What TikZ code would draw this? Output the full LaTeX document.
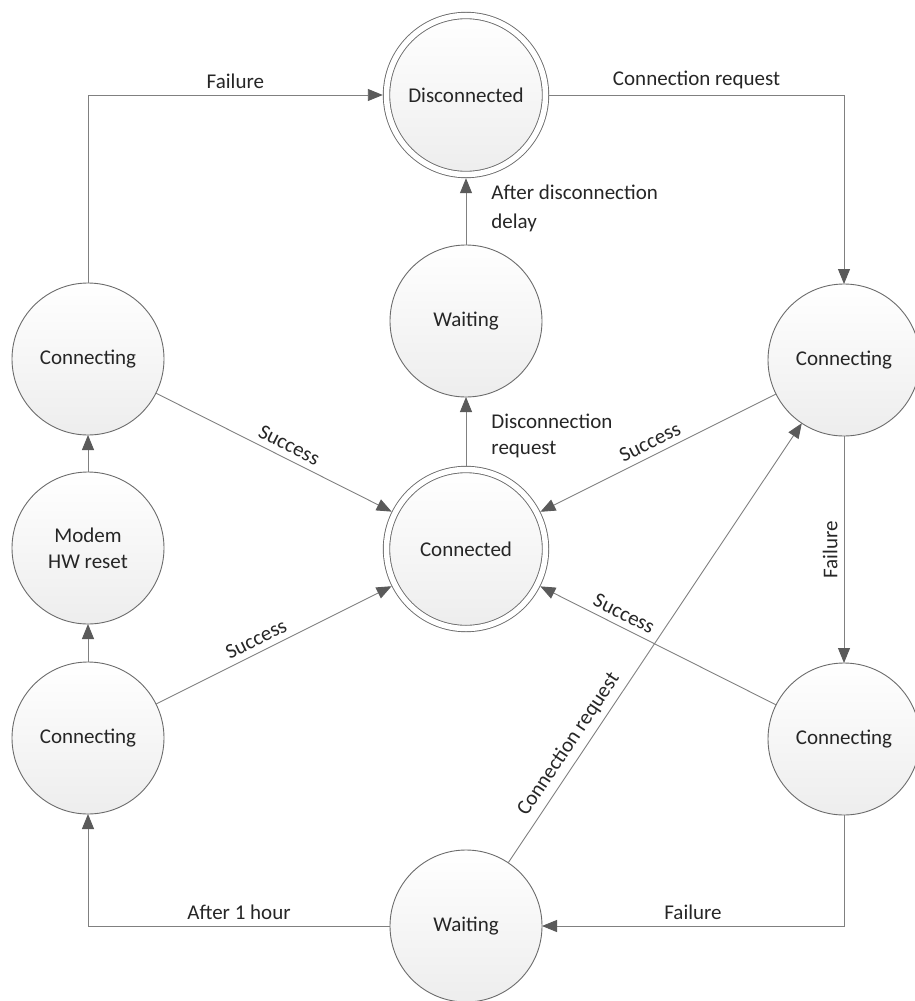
\documentclass[tikz,border=0pt]{standalone}
\usepackage{fontspec}
\setmainfont{Carlito}
\usetikzlibrary{arrows.meta}

\definecolor{linegray}{HTML}{808080}
\definecolor{tipgray}{HTML}{5A5A5A}
\definecolor{ringgray}{HTML}{6B6B6B}
\definecolor{txtgray}{HTML}{262626}

\begin{document}
\begin{tikzpicture}[x=1pt, y=-1pt,
    state/.style={circle, draw=ringgray, line width=0.9pt, top color=white, bottom color=black!7,
        minimum size=152pt, inner sep=0pt, outer sep=0pt, text=txtgray, align=center,
        font=\fontsize{21}{26}\selectfont},
    final/.style={state, double=white, double distance=5.5pt, minimum size=159pt, outer sep=3.7pt},
    conn/.style={draw=linegray, line width=0.9pt, -{Triangle[length=15pt, width=12pt, color=tipgray]}},
    lbl/.style={text=txtgray, inner sep=6pt, font=\fontsize{21}{26}\selectfont}]
    \useasboundingbox (0,0) rectangle (914,1001);

    % Middle column
    \node[final] (dc) at (466,95) {Disconnected};
    \node[state] (wt1) at (466,321) {Waiting};
    \node[final] (cd) at (466,549) {Connected};
    \node[state] (wt2) at (466,926) {Waiting};

    % Left column
    \node[state] (cl1) at (88,359) {Connecting};
    \node[state] (hw) at (88,548) {Modem\\HW reset};
    \node[state] (cl2) at (88,738) {Connecting};

    % Right column
    \node[state] (cr1) at (844,360) {Connecting};
    \node[state] (cr2) at (844,739) {Connecting};

    % Outer loop
    \draw[conn] (cl1) |- node[lbl, above, pos=.75] {Failure} (dc);
    \draw[conn] (dc) -| node[lbl, above, pos=.25] {Connection request} (cr1);
    \draw[conn] (cr1) -- node[lbl, rotate=90, anchor=south, pos=.5] {Failure} (cr2);
    \draw[conn] (cr2) |- node[lbl, above, pos=.75] {Failure} (wt2);
    \draw[conn] (wt2) -| node[lbl, above, pos=.25] {After 1 hour} (cl2);
    \draw[conn] (cl2) -- (hw);
    \draw[conn] (hw) -- (cl1);

    % Disconnecting
    \draw[conn] (cd) -- node[lbl, right=19pt, align=left, pos=.44] {Disconnection\\request} (wt1);
    \draw[conn] (wt1) -- node[lbl, right=19pt, align=left, pos=.55,
        font=\fontsize{21}{29}\selectfont] {After disconnection\\delay} (dc);

    % Success into Connected
    \foreach \src/\p in {cl1/.54, cl2/.45, cr1/.51, cr2/.67}
        \draw[conn] (\src) -- node[lbl, sloped, above, pos=\p] {Success} (cd);

    % Retry from waiting
    \draw[conn] (wt2) -- node[lbl, sloped, above, pos=.25] {Connection request} (cr1);
\end{tikzpicture}
\end{document}
